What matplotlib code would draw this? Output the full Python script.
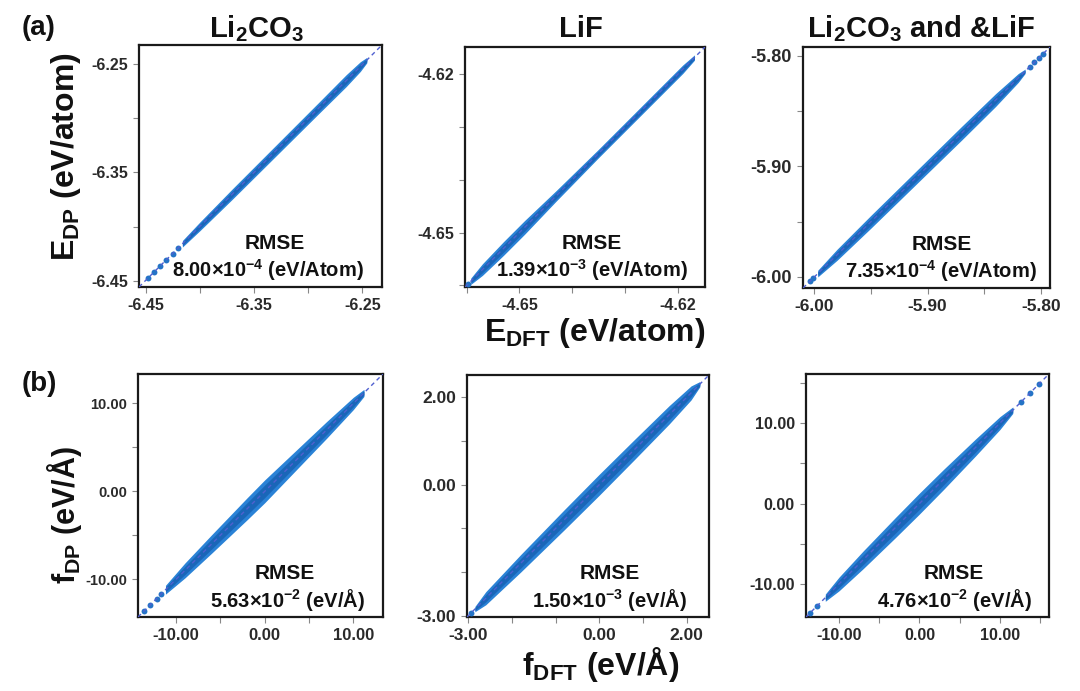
import numpy as np
import matplotlib
matplotlib.use("Agg")
import matplotlib.pyplot as plt
from matplotlib.ticker import MultipleLocator, FixedLocator, FormatStrFormatter

plt.rcParams['font.family'] = ['Liberation Sans', 'DejaVu Sans']
plt.rcParams['font.weight'] = 'bold'
plt.rcParams['axes.unicode_minus'] = False
plt.rcParams['mathtext.fontset'] = 'custom'
plt.rcParams['mathtext.rm'] = 'Liberation Sans:bold'
plt.rcParams['mathtext.bf'] = 'Liberation Sans:bold'
plt.rcParams['mathtext.it'] = 'Liberation Sans:bold'

# ------------------------------------------------------------------
# Data: the dense point cloud along y = x
# (DFT value along the diagonal, half-width of the cloud) + sparse tail points
# ------------------------------------------------------------------
e_li2co3_x = [-6.416, -6.40, -6.37, -6.33, -6.29, -6.265, -6.252, -6.246]
e_li2co3_w = [0.0030, 0.0040, 0.0048, 0.0050, 0.0052, 0.0055, 0.0045, 0.0025]
e_li2co3_tail = [-6.448, -6.442, -6.437, -6.431, -6.425, -6.420]

e_lif_x = [-4.6592, -4.657, -4.653, -4.649, -4.643, -4.635, -4.626, -4.619, -4.6168]
e_lif_w = [0.0006, 0.0011, 0.0013, 0.0013, 0.0010, 0.0008, 0.0008, 0.0008, 0.0005]
e_lif_tail = [-4.6598]

e_mix_x = [-5.997, -5.98, -5.95, -5.91, -5.87, -5.84, -5.82, -5.814]
e_mix_w = [0.0030, 0.0050, 0.0058, 0.0060, 0.0062, 0.0058, 0.0040, 0.0020]
e_mix_tail = [-6.004, -6.001, -5.810, -5.806, -5.802, -5.798]

f_li2co3_x = [-11.2, -9.0, -6.0, -2.0, 0.0, 3.0, 7.0, 10.0, 11.2]
f_li2co3_w = [0.50, 0.85, 1.05, 1.25, 1.30, 1.15, 0.95, 0.70, 0.40]
f_li2co3_tail = [-13.6, -12.9, -12.2, -11.7]

f_lif_x = [-2.85, -2.6, -1.8, -0.8, 0.0, 0.8, 1.6, 2.1, 2.3]
f_lif_w = [0.06, 0.15, 0.20, 0.23, 0.24, 0.23, 0.21, 0.16, 0.06]
f_lif_tail = [-2.93]

f_mix_x = [-11.7, -10.0, -7.0, -3.0, 0.0, 3.0, 7.0, 10.0, 11.6]
f_mix_w = [0.45, 0.85, 1.10, 1.25, 1.30, 1.25, 1.05, 0.80, 0.40]
f_mix_tail = [-13.6, -12.7, 12.6, 13.7, 14.8]

titles = [r'Li$_2$CO$_3$', 'LiF', r'Li$_2$CO$_3$ and &LiF']
rmse_e = [r'8.00×10$^{-4}$ (eV/Atom)', r'1.39×10$^{-3}$ (eV/Atom)',
          r'7.35×10$^{-4}$ (eV/Atom)']
rmse_f = [r'5.63×10$^{-2}$ (eV/Å)', r'1.50×10$^{-3}$ (eV/Å)',
          r'4.76×10$^{-2}$ (eV/Å)']

e_ticks = [[-6.45, -6.35, -6.25], [-4.65, -4.62], [-6.00, -5.90, -5.80]]
f_ticks = [[-10.0, 0.0, 10.0], [-3.0, 0.0, 2.0], [-10.0, 0.0, 10.0]]

# ------------------------------------------------------------------
# layout (pixels of the 1080x691 canvas)
# ------------------------------------------------------------------
W, H = 1080, 691
boxes = [(139, 45, 382, 287), (465, 47, 705, 287), (803, 47, 1050, 288),
         (138, 374, 383, 617), (467, 375, 709, 617), (806, 374, 1049, 617)]
lims = [(-6.456, -6.232), (-4.6603, -4.6148), (-6.010, -5.792),
        (-14.3, 13.35), (-3.03, 2.51), (-14.1, 16.1)]
minor = [0.05, 0.01, 0.05, 5.0, 1.0, 5.0]
# (y tick labels, x tick labels)
tick_fs = [(11.5, 11.5), (11.5, 11.5), (13, 12.5), (10.5, 12), (12.5, 12.5), (11.5, 11.5)]
rmse_pos = [(0.56, 0.53), (0.53, 0.53), (0.56, 0.56), (0.60, 0.61), (0.59, 0.59), (0.61, 0.61)]

panels = [(e_li2co3_x, e_li2co3_w, e_li2co3_tail),
          (e_lif_x, e_lif_w, e_lif_tail),
          (e_mix_x, e_mix_w, e_mix_tail),
          (f_li2co3_x, f_li2co3_w, f_li2co3_tail),
          (f_lif_x, f_lif_w, f_lif_tail),
          (f_mix_x, f_mix_w, f_mix_tail)]

fig = plt.figure(figsize=(W / 100, H / 100), dpi=100)

for k, (bx, bw, tail) in enumerate(panels):
    l, t, r, b = boxes[k]
    ax = fig.add_axes([l / W, 1 - b / H, (r - l) / W, (b - t) / H])
    bx = np.array(bx)
    bw = np.array(bw)
    ax.fill_between(bx, bx - bw, bx + bw, color='#2a82d6', lw=0, zorder=2)
    ax.fill_between(bx, bx - 0.55 * bw, bx + 0.55 * bw, color='#1a66b8', lw=0, zorder=3)
    ax.scatter(tail, tail, s=18, color='#2474c6', lw=0, zorder=3)
    ax.axline((bx[0], bx[0]), slope=1, color='#5060d0', lw=1.0,
              dashes=(3, 2.5), zorder=4)

    ax.set_xlim(*lims[k])
    ax.set_ylim(*lims[k])
    ticks = e_ticks[k] if k < 3 else f_ticks[k - 3]
    for axis in (ax.xaxis, ax.yaxis):
        axis.set_major_locator(FixedLocator(ticks))
        axis.set_minor_locator(MultipleLocator(minor[k]))
        axis.set_major_formatter(FormatStrFormatter('%.2f'))
    ax.tick_params(which='both', direction='out', length=4, width=0.8,
                   color='#888888', labelcolor='#2a2a2a', pad=4)
    ax.tick_params(axis='y', labelsize=tick_fs[k][0])
    ax.tick_params(axis='x', labelsize=tick_fs[k][1])
    for s in ax.spines.values():
        s.set_linewidth(1.6)
        s.set_color('#1a1a1a')

    rm = rmse_e[k] if k < 3 else rmse_f[k - 3]
    xa, xb = rmse_pos[k]
    ax.text(xa, 0.18, 'RMSE', transform=ax.transAxes, ha='center', va='center',
            fontsize=15, fontweight='bold', color='#111111', zorder=5)
    ax.text(xb, 0.07, rm, transform=ax.transAxes, ha='center', va='center',
            fontsize=14.5, fontweight='bold', color='#111111', zorder=5)

# column titles
for x, s in zip([256, 581, 921], titles):
    fig.text(x / W, 1 - 37 / H, s, ha='center', va='baseline', fontsize=21,
             fontweight='bold', color='#111111')

# panel letters
fig.text(39 / W, 1 - 28 / H, '(a)', ha='center', va='center', fontsize=20,
         fontweight='bold', color='#111111')
fig.text(39 / W, 1 - 384 / H, '(b)', ha='center', va='center', fontsize=20,
         fontweight='bold', color='#111111')

# axis labels
fig.text(66 / W, 1 - 157 / H, r'E$_{\rm DP}$ (eV/atom)', rotation=90, ha='center',
         va='center', fontsize=23, fontweight='bold', color='#111111')
fig.text(595 / W, 1 - 333 / H, r'E$_{\rm DFT}$ (eV/atom)', ha='center',
         va='center', fontsize=23, fontweight='bold', color='#111111')
fig.text(64 / W, 1 - 515 / H, r'f$_{\rm DP}$ (eV/Å)', rotation=90, ha='center',
         va='center', fontsize=22, fontweight='bold', color='#111111')
fig.text(601 / W, 1 - 664 / H, r'f$_{\rm DFT}$ (eV/Å)', ha='center',
         va='center', fontsize=23, fontweight='bold', color='#111111')

fig.savefig('out.png', dpi=100)
